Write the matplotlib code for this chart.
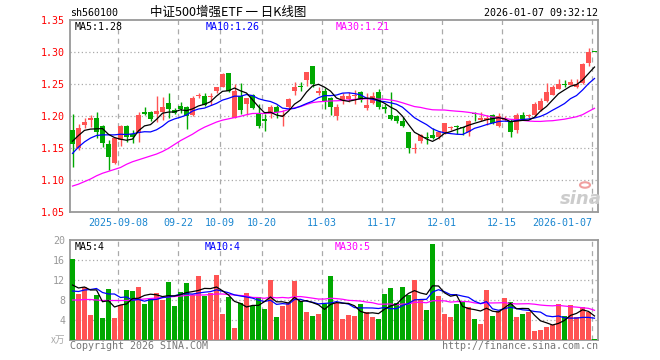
import matplotlib
matplotlib.use('Agg')
import matplotlib.pyplot as plt
from matplotlib.patches import Circle

# ---- daily candles, 2025-08-27 .. 2026-01-07 (88 trading days) ----
OPEN = [1.179, 1.150, 1.187, 1.194, 1.197, 1.185, 1.157, 1.127, 1.163, 1.185,
        1.172, 1.174, 1.207, 1.207, 1.204, 1.207, 1.221, 1.210, 1.216, 1.214,
        1.202, 1.231, 1.232, 1.230, 1.240, 1.246, 1.267, 1.198, 1.231, 1.220,
        1.233, 1.205, 1.196, 1.203, 1.215, 1.200, 1.214, 1.239, 1.246, 1.257,
        1.279, 1.236, 1.240, 1.229, 1.201, 1.226, 1.227, 1.231, 1.238, 1.213,
        1.221, 1.238, 1.215, 1.202, 1.201, 1.193, 1.176, 1.149, 1.162, 1.168,
        1.171, 1.167, 1.175, 1.181, 1.185, 1.183, 1.175, 1.205, 1.194, 1.194,
        1.202, 1.185, 1.194, 1.192, 1.179, 1.202, 1.200, 1.202, 1.210, 1.224,
        1.234, 1.242, 1.251, 1.249, 1.246, 1.252, 1.283, 1.300]
HIGH = [1.203, 1.188, 1.197, 1.202, 1.207, 1.187, 1.163, 1.168, 1.187, 1.186,
        1.179, 1.207, 1.215, 1.209, 1.231, 1.230, 1.236, 1.213, 1.222, 1.216,
        1.231, 1.237, 1.236, 1.237, 1.246, 1.267, 1.268, 1.251, 1.252, 1.229,
        1.235, 1.219, 1.203, 1.217, 1.217, 1.210, 1.228, 1.254, 1.253, 1.270,
        1.279, 1.246, 1.244, 1.230, 1.220, 1.236, 1.238, 1.241, 1.239, 1.236,
        1.238, 1.242, 1.220, 1.238, 1.202, 1.199, 1.176, 1.158, 1.173, 1.176,
        1.181, 1.176, 1.190, 1.185, 1.186, 1.184, 1.194, 1.207, 1.207, 1.202,
        1.204, 1.205, 1.200, 1.195, 1.205, 1.206, 1.203, 1.223, 1.228, 1.252,
        1.249, 1.258, 1.257, 1.259, 1.259, 1.283, 1.306, 1.300]
LOW = [1.120, 1.148, 1.181, 1.184, 1.166, 1.152, 1.116, 1.125, 1.153, 1.160,
       1.159, 1.160, 1.202, 1.193, 1.191, 1.194, 1.198, 1.203, 1.205, 1.180,
       1.200, 1.228, 1.216, 1.218, 1.236, 1.245, 1.238, 1.197, 1.204, 1.202,
       1.211, 1.182, 1.177, 1.198, 1.197, 1.185, 1.213, 1.234, 1.239, 1.248,
       1.246, 1.234, 1.212, 1.202, 1.194, 1.220, 1.223, 1.220, 1.222, 1.210,
       1.220, 1.212, 1.205, 1.194, 1.189, 1.183, 1.143, 1.143, 1.158, 1.157,
       1.164, 1.164, 1.173, 1.178, 1.173, 1.171, 1.170, 1.193, 1.192, 1.186,
       1.188, 1.183, 1.192, 1.168, 1.174, 1.194, 1.197, 1.200, 1.209, 1.223,
       1.233, 1.242, 1.245, 1.249, 1.244, 1.251, 1.278, 1.300]
CLOSE = [1.156, 1.182, 1.191, 1.198, 1.175, 1.158, 1.137, 1.166, 1.185, 1.167,
         1.167, 1.202, 1.204, 1.195, 1.208, 1.215, 1.211, 1.205, 1.212, 1.201,
         1.229, 1.234, 1.218, 1.232, 1.245, 1.266, 1.239, 1.239, 1.210, 1.228,
         1.213, 1.185, 1.192, 1.214, 1.206, 1.202, 1.227, 1.246, 1.245, 1.269,
         1.250, 1.240, 1.224, 1.214, 1.215, 1.232, 1.232, 1.234, 1.226, 1.217,
         1.232, 1.215, 1.212, 1.196, 1.193, 1.185, 1.150, 1.151, 1.171, 1.166,
         1.166, 1.175, 1.189, 1.184, 1.183, 1.181, 1.193, 1.204, 1.198, 1.197,
         1.190, 1.200, 1.195, 1.176, 1.202, 1.195, 1.201, 1.219, 1.224, 1.238,
         1.245, 1.250, 1.249, 1.253, 1.250, 1.281, 1.301, 1.300]

MA5 = [1.161, 1.170, 1.178, 1.180, 1.1804, 1.1808, 1.1718, 1.1668, 1.1642, 1.1626,
       1.1644, 1.1774, 1.1850, 1.1870, 1.1952, 1.2048, 1.2066, 1.2068, 1.2102, 1.2088,
       1.2116, 1.2162, 1.2188, 1.2228, 1.2316, 1.2390, 1.2400, 1.2442, 1.2398, 1.2364,
       1.2258, 1.2150, 1.2056, 1.2064, 1.2020, 1.1998, 1.2082, 1.2190, 1.2252, 1.2378,
       1.2474, 1.2500, 1.2456, 1.2394, 1.2286, 1.2250, 1.2234, 1.2254, 1.2278, 1.2282,
       1.2282, 1.2248, 1.2204, 1.2144, 1.2096, 1.2002, 1.1872, 1.1750, 1.1700, 1.1646,
       1.1608, 1.1658, 1.1734, 1.1760, 1.1794, 1.1824, 1.1860, 1.1890, 1.1918, 1.1946,
       1.1964, 1.1978, 1.1960, 1.1916, 1.1926, 1.1936, 1.1938, 1.1986, 1.2082, 1.2154,
       1.2254, 1.2352, 1.2412, 1.2470, 1.2494, 1.2566, 1.2668, 1.2770]
MA10 = [1.142, 1.152, 1.160, 1.166, 1.170, 1.171, 1.171, 1.171, 1.172, 1.1715,
        1.1726, 1.1746, 1.1759, 1.1756, 1.1789, 1.1846, 1.1920, 1.1959, 1.1986, 1.2020,
        1.2082, 1.2114, 1.2128, 1.2165, 1.2202, 1.2253, 1.2281, 1.2315, 1.2313, 1.2340,
        1.2324, 1.2275, 1.2249, 1.2231, 1.2192, 1.2128, 1.2116, 1.2123, 1.2158, 1.2199,
        1.2236, 1.2291, 1.2323, 1.2323, 1.2332, 1.2362, 1.2367, 1.2355, 1.2336, 1.2284,
        1.2266, 1.2241, 1.2229, 1.2211, 1.2189, 1.2142, 1.2060, 1.1977, 1.1922, 1.1871,
        1.1805, 1.1765, 1.1742, 1.1730, 1.1720, 1.1716, 1.1759, 1.1812, 1.1839, 1.1870,
        1.1894, 1.1919, 1.1925, 1.1917, 1.1936, 1.1950, 1.1958, 1.1973, 1.1999, 1.2040,
        1.2095, 1.2145, 1.2199, 1.2276, 1.2324, 1.2410, 1.2510, 1.2591]
MA30 = [1.091, 1.094, 1.098, 1.102, 1.107, 1.111, 1.114, 1.117, 1.120, 1.125,
        1.129, 1.132, 1.135, 1.138, 1.141, 1.145, 1.150, 1.156, 1.162, 1.167,
        1.172, 1.178, 1.183, 1.187, 1.191, 1.194, 1.196, 1.198, 1.200, 1.2025,
        1.2044, 1.2045, 1.2045, 1.2051, 1.2061, 1.2076, 1.2106, 1.2132, 1.2152, 1.2186,
        1.2214, 1.2227, 1.2233, 1.2240, 1.2242, 1.2248, 1.2255, 1.2264, 1.2269, 1.2274,
        1.2275, 1.2269, 1.2267, 1.2255, 1.2238, 1.2211, 1.2181, 1.2152, 1.2139, 1.2118,
        1.2102, 1.2099, 1.2098, 1.2088, 1.2080, 1.2073, 1.2062, 1.2048, 1.2032, 1.2008,
        1.1988, 1.1975, 1.1965, 1.1953, 1.1948, 1.1936, 1.1926, 1.1921, 1.1920, 1.1927,
        1.1931, 1.1943, 1.1955, 1.1974, 1.1993, 1.2025, 1.2076, 1.2125]

# ---- volume (x万) ----
VOLUME = [16.2, 9.2, 10.7, 5.0, 9.0, 4.4, 10.2, 4.4, 7.0, 10.0,
          9.8, 10.6, 7.2, 8.2, 9.4, 8.0, 11.6, 6.8, 9.6, 11.4,
          9.0, 12.8, 8.8, 9.4, 13.0, 5.2, 8.6, 2.4, 7.4, 9.4,
          6.8, 8.6, 6.2, 12.0, 4.6, 6.8, 7.4, 11.8, 7.8, 5.6,
          4.8, 5.2, 7.2, 12.8, 7.4, 4.2, 5.0, 4.8, 7.2, 5.6,
          4.6, 4.2, 9.2, 10.4, 7.4, 10.6, 9.0, 12.0, 8.0, 6.0,
          19.2, 8.8, 5.2, 4.6, 7.2, 7.8, 6.6, 4.2, 3.2, 10.0,
          4.8, 5.8, 8.4, 7.6, 4.6, 5.2, 5.6, 1.8, 2.0, 2.6,
          3.0, 7.2, 4.8, 7.0, 4.6, 6.6, 5.6, 0.2]
VOL_MA5 = [11.0, 10.4, 10.6, 10.0, 10.02, 7.66, 7.86, 6.60, 7.00, 7.20,
           8.28, 8.36, 8.92, 9.16, 9.04, 8.68, 8.88, 8.80, 9.08, 9.48,
           9.68, 9.92, 10.32, 10.28, 10.60, 9.84, 9.00, 7.72, 7.32, 6.60,
           6.92, 6.92, 7.68, 8.60, 7.64, 7.64, 7.40, 8.52, 7.68, 7.88,
           7.48, 7.04, 6.12, 7.12, 7.48, 7.36, 7.32, 6.84, 5.72, 5.36,
           5.44, 5.28, 6.16, 6.80, 7.16, 8.36, 9.32, 9.88, 9.40, 9.12,
           10.84, 10.80, 9.44, 8.76, 9.00, 6.72, 6.28, 6.08, 5.80, 6.36,
           5.76, 5.60, 6.44, 7.32, 6.24, 6.32, 6.28, 4.96, 3.84, 3.44,
           3.00, 3.32, 3.92, 4.92, 5.32, 6.04, 5.72, 4.80]
VOL_MA10 = [9.8, 9.7, 10.0, 10.1, 10.3, 9.5, 9.2, 9.2, 8.5, 8.61,
            7.97, 8.11, 7.76, 8.08, 8.12, 8.48, 8.62, 8.86, 9.12, 9.26,
            9.18, 9.40, 9.56, 9.68, 10.04, 9.76, 9.46, 9.02, 8.80, 8.60,
            8.38, 7.96, 7.70, 7.96, 7.12, 7.28, 7.16, 8.10, 8.14, 7.76,
            7.56, 7.22, 7.32, 7.40, 7.68, 7.42, 7.18, 6.48, 6.42, 6.42,
            6.40, 6.30, 6.50, 6.26, 6.26, 6.90, 7.30, 8.02, 8.10, 8.14,
            9.60, 10.06, 9.66, 9.08, 9.06, 8.78, 8.54, 7.76, 7.28, 7.68,
            6.24, 5.94, 6.26, 6.56, 6.30, 6.04, 5.94, 5.70, 5.58, 4.84,
            4.66, 4.80, 4.44, 4.38, 4.38, 4.52, 4.52, 4.36]
VOL_MA30 = [8.0, 8.0, 8.1, 8.1, 8.0, 7.9, 7.9, 7.9, 7.9, 7.9,
            8.0, 8.1, 8.2, 8.3, 8.4, 8.5, 8.6, 8.7, 8.8, 8.9,
            9.0, 9.0, 9.0, 9.1, 9.2, 9.2, 9.1, 9.0, 8.9, 8.82,
            8.51, 8.49, 8.34, 8.57, 8.43, 8.51, 8.41, 8.66, 8.69, 8.54,
            8.37, 8.19, 8.19, 8.35, 8.28, 8.15, 7.93, 7.87, 7.79, 7.59,
            7.45, 7.16, 7.17, 7.21, 7.02, 7.20, 7.21, 7.53, 7.55, 7.44,
            7.85, 7.86, 7.83, 7.58, 7.67, 7.70, 7.67, 7.42, 7.27, 7.41,
            7.41, 7.43, 7.47, 7.30, 7.21, 7.24, 7.26, 7.16, 6.99, 6.89,
            6.83, 6.93, 6.79, 6.67, 6.58, 6.45, 6.33, 5.94]

TICK_LABELS = ['2025-09-08', '09-22', '10-09', '10-20', '11-03',
               '11-17', '12-01', '12-15', '2026-01-07']
TICK_BARS = [8, 18, 25, 32, 42, 52, 62, 72, 87]

PRICE_TICKS = [1.05, 1.10, 1.15, 1.20, 1.25, 1.30, 1.35]
VOL_TICKS = [4, 8, 12, 16, 20]

RED = '#ff5353'
GREEN = '#00a800'
GRID = '#aaaaaa'
FRAME = '#999999'
MONO = 'DejaVu Sans Mono'
CJK = ['Noto Sans CJK SC', 'DejaVu Sans']

W, H = 660, 360


def fx(px):
    return px / W


def fy(py):
    return 1 - py / H


n = len(CLOSE)
idx = list(range(n))
BW = 5 / 6
xc = [i + 2.5 / 6 for i in idx]
colors = [RED if c > o else GREEN for o, c in zip(OPEN, CLOSE)]

fig = plt.figure(figsize=(6.6, 3.6), dpi=100)
fig.patch.set_facecolor('white')

ax = fig.add_axes([fx(70), fy(212.3), 527.7 / W, 192 / H])
ax2 = fig.add_axes([fx(70), fy(340), 527.7 / W, 100 / H])

for a in (ax, ax2):
    a.set_xlim(0, 87.95)
    for s in a.spines.values():
        s.set_color(FRAME)
        s.set_linewidth(1.3)
    for t in TICK_BARS:
        a.axvline(t, color=GRID, lw=0.9, ls=(0, (4, 3.5)), zorder=1)

# price panel
ax.set_ylim(1.05, 1.35)
ax.set_yticks(PRICE_TICKS)
ax.set_yticklabels(['%.2f' % v for v in PRICE_TICKS])
for v in PRICE_TICKS[1:-1]:
    ax.axhline(v, color=GRID, lw=0.9, ls=(0, (1, 2)), zorder=1)

bottoms = [min(o, c) for o, c in zip(OPEN, CLOSE)]
heights = [max(abs(c - o), 0.0016) for o, c in zip(OPEN, CLOSE)]
ax.vlines(xc, LOW, HIGH, colors=colors, lw=1.0, zorder=3)
ax.bar(idx, heights, bottom=bottoms, width=BW, align='edge',
       color=colors, linewidth=0, zorder=4)

ax.plot(xc, MA30, color='#ff00ff', lw=0.9, zorder=5)
ax.plot(xc, MA10, color='#0000ff', lw=0.9, zorder=5)
ax.plot(xc, MA5, color='black', lw=0.9, zorder=5)

ax.set_xticks(TICK_BARS)
ax.set_xticklabels(TICK_LABELS)
ax.tick_params(axis='both', length=0, labelsize=7.2)
ax.tick_params(axis='y', pad=3.5, labelcolor='#ff0000')
ax.tick_params(axis='x', pad=4, labelcolor='#1a86d0')
for lbl in ax.get_xticklabels() + ax.get_yticklabels():
    lbl.set_family(MONO)
ax.get_xticklabels()[-1].set_ha('right')

# volume panel
ax2.set_ylim(0, 20)
ax2.set_yticks(VOL_TICKS)
ax2.set_yticklabels([str(v) for v in VOL_TICKS])
for v in VOL_TICKS[:-1]:
    ax2.axhline(v, color=GRID, lw=0.9, ls=(0, (1, 2)), zorder=1)
ax2.bar(idx, VOLUME, width=BW, align='edge', color=colors, linewidth=0, zorder=3)
ax2.plot(xc, VOL_MA30, color='#ff00ff', lw=0.9, zorder=5)
ax2.plot(xc, VOL_MA10, color='#0000ff', lw=0.9, zorder=5)
ax2.plot(xc, VOL_MA5, color='black', lw=0.9, zorder=5)
ax2.set_xticks([])
ax2.tick_params(axis='y', length=0, labelsize=7.2, pad=3.5, labelcolor='#999999')
for lbl in ax2.get_yticklabels():
    lbl.set_family(MONO)

# header and labels
fig.text(fx(70), fy(13), 'sh560100', family=MONO, fontsize=7.2, va='center')
fig.text(fx(150), fy(12.5), '中证500增强ETF 一 日K线图', family=CJK,
         fontsize=9, va='center')
fig.text(fx(598), fy(13), '2026-01-07 09:32:12', family=MONO, fontsize=7.2,
         va='center', ha='right')

fig.text(fx(75), fy(27), 'MA5:1.28', family=MONO, fontsize=7.2, va='center',
         color='black')
fig.text(fx(206), fy(27), 'MA10:1.26', family=MONO, fontsize=7.2, va='center',
         color='#0000ff')
fig.text(fx(336), fy(27), 'MA30:1.21', family=MONO, fontsize=7.2, va='center',
         color='#ff00ff')

fig.text(fx(75), fy(247), 'MA5:4', family=MONO, fontsize=7.2, va='center',
         color='black')
fig.text(fx(205), fy(247), 'MA10:4', family=MONO, fontsize=7.2, va='center',
         color='#0000ff')
fig.text(fx(335), fy(247), 'MA30:5', family=MONO, fontsize=7.2, va='center',
         color='#ff00ff')

fig.text(fx(65), fy(340), 'x万', family=CJK, fontsize=7, va='center',
         ha='right', color='#aaaaaa')
fig.text(fx(70), fy(346), 'Copyright 2026 SINA.COM', family=MONO, fontsize=7.2,
         va='center', color='#777777')
fig.text(fx(598), fy(346), 'http://finance.sina.com.cn', family=MONO,
         fontsize=7.2, va='center', ha='right', color='#777777')

# sina watermark
fig.patches.append(Circle((fx(585), fy(185)), 5 / W, transform=fig.transFigure,
                          facecolor='none', edgecolor='#f0a0a0', lw=1.5))
fig.text(fx(581), fy(199), 'sina', fontsize=13, style='italic',
         weight='bold', color='#cccccc', ha='center', va='center')

fig.savefig('out.png', dpi=100, facecolor='white')
